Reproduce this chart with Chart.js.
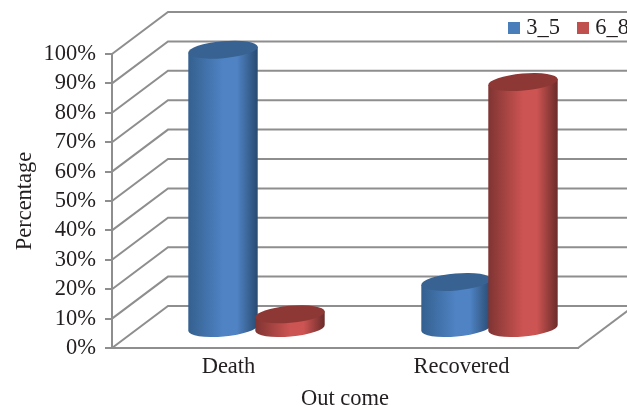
<!DOCTYPE html>
<html>
<head>
<meta charset="utf-8">
<title>Out come</title>
<script src="https://cdn.jsdelivr.net/npm/chart.js@4"></script>
<style>
  html, body { margin: 0; padding: 0; background: #fff; overflow: hidden; }
  #myChart { display: block; }
</style>
</head>
<body>
<canvas id="myChart" width="627" height="407"></canvas>
<script>
// data
const categories = ["Death", "Recovered"];
const series35 = [95, 16];
const series68 = [5, 84];
const seriesNames = ["3_5", "6_8"];

const textColor = "#231f20";
const lineColor = "#8e8e8e";
const fontName = "'Liberation Serif', 'Times New Roman', serif";
const fontSize = 22.5;

// side gradient and lid colours per series
const shades = [
  { key: "#4a7ebb", edgeL: "#34608f", mid: "#4f83c4", edgeR: "#284a70", lid: "#386292" },
  { key: "#c0504d", edgeL: "#7f3432", mid: "#cc5452", edgeR: "#6a2b2a", lid: "#8e3836" },
];

// the floor goes back by this much
const depthX = 56;
const depthY = 42;
// the bars stand about in the middle of it
const standX = 28;
const standY = 19;

// legend square as an image, so the gap to the text can be kept small
const makeKey = function (color) {
  const c = document.createElement("canvas");
  c.width = 12;
  c.height = 12;
  const g = c.getContext("2d");
  g.fillStyle = color;
  g.fillRect(0, 0, 12, 12);
  return c;
};

// one tilted cylinder
const drawCylinder = function (ctx, x, top, base, width, shade) {
  const rx = width / 2;
  const ry = 8.5;
  const tilt = -5 * Math.PI / 180;
  const ex = rx * Math.cos(tilt);
  const ey = rx * Math.sin(tilt);

  const grad = ctx.createLinearGradient(x - rx, 0, x + rx, 0);
  grad.addColorStop(0, shade.edgeL);
  grad.addColorStop(0.5, shade.mid);
  grad.addColorStop(0.7, shade.mid);
  grad.addColorStop(1, shade.edgeR);

  ctx.beginPath();
  ctx.moveTo(x - ex, top - ey);
  ctx.lineTo(x - ex, base - ey);
  ctx.ellipse(x, base, rx, ry, tilt, Math.PI, 0, true);
  ctx.lineTo(x + ex, top + ey);
  ctx.closePath();
  ctx.fillStyle = grad;
  ctx.fill();

  ctx.beginPath();
  ctx.ellipse(x, top, rx, ry, tilt, 0, Math.PI * 2);
  ctx.fillStyle = shade.lid;
  ctx.fill();
};

// walls, floor and cylinders
const box3d = {
  id: "box3d",
  beforeInit(chart) {
    // the legend should not push the plot down more than the reference does
    const fit = chart.legend.fit;
    chart.legend.fit = function () {
      fit.call(this);
      this.height = 54;
    };
  },
  afterLayout(chart) {
    // the legend runs past the right edge of the picture
    chart.legend.left += 73;
    chart.legend.right += 73;
    chart.legend.top = -5;
  },
  beforeDatasetsDraw(chart) {
    const ctx = chart.ctx;
    const yScale = chart.scales.y;
    const { left, right, bottom } = chart.chartArea;

    ctx.save();
    ctx.strokeStyle = lineColor;
    ctx.lineWidth = 2;
    yScale.ticks.forEach(function (tick) {
      const y = yScale.getPixelForValue(tick.value);
      ctx.beginPath();
      ctx.moveTo(left, y);
      ctx.lineTo(left + depthX, y - depthY);
      ctx.lineTo(right + depthX, y - depthY);
      ctx.stroke();
    });
    ctx.beginPath();
    ctx.moveTo(right, bottom);
    ctx.lineTo(right + depthX, bottom - depthY);
    ctx.stroke();

    chart.data.datasets.forEach(function (ds, i) {
      chart.getDatasetMeta(i).data.forEach(function (bar) {
        drawCylinder(ctx, bar.x + standX, bar.y - standY, bar.base - standY, bar.width, shades[i]);
      });
    });
    ctx.restore();
    return false;
  },
};

const ctx = document.getElementById("myChart").getContext("2d");
const myChart = new Chart(ctx, {
  type: "bar",
  data: {
    labels: categories,
    datasets: [
      { label: seriesNames[0], data: series35, backgroundColor: shades[0].key },
      { label: seriesNames[1], data: series68, backgroundColor: shades[1].key },
    ],
  },
  options: {
    responsive: false,
    animation: false,
    events: [],
    barPercentage: 1.04,
    categoryPercentage: 0.575,
    layout: { padding: { right: 49 } },
    plugins: {
      tooltip: { enabled: false },
      legend: {
        position: "top",
        align: "end",
        labels: {
          usePointStyle: true,
          pointStyle: makeKey(shades[0].key),
          boxWidth: 2,
          padding: 22,
          color: textColor,
          font: { family: fontName, size: fontSize },
          generateLabels(chart) {
            return seriesNames.map(function (name, i) {
              return { text: name, pointStyle: makeKey(shades[i].key), fontColor: textColor, datasetIndex: i };
            });
          },
        },
      },
    },
    scales: {
      x: {
        grid: { display: false },
        border: { color: lineColor, width: 2 },
        ticks: { color: textColor, font: { family: fontName, size: fontSize }, padding: -2 },
        title: { display: true, text: "Out come", color: textColor, font: { family: fontName, size: fontSize }, padding: { top: 0, bottom: -6 } },
        afterFit(scale) { scale.height = 59; },
      },
      y: {
        min: 0,
        max: 100,
        grid: { drawOnChartArea: false, color: lineColor, lineWidth: 2, tickLength: 7 },
        border: { color: lineColor, width: 2 },
        ticks: {
          stepSize: 10,
          autoSkip: false,
          color: textColor,
          padding: 9,
          font: { family: fontName, size: fontSize },
          callback: function (value) { return value + "%"; },
        },
        title: { display: true, text: "Percentage", color: textColor, font: { family: fontName, size: fontSize }, padding: { top: 12, bottom: 0 } },
        afterFit(scale) { scale.width = 112; },
      },
    },
  },
  plugins: [box3d],
});
</script>
</body>
</html>
